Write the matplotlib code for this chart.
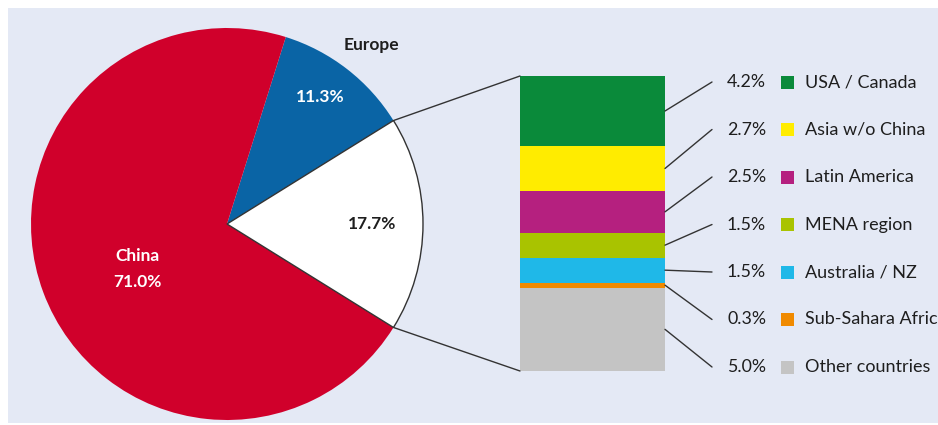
import math
import matplotlib.pyplot as plt
from matplotlib.patches import Rectangle, ConnectionPatch

plt.rcParams['font.family'] = ['Lato', 'DejaVu Sans']

# main pie: rest of world / Europe / China
pie_labels = ["Rest of world", "Europe", "China"]
pie_values = [17.7, 11.3, 71.0]
pie_colors = ["#ffffff", "#0a64a5", "#d0002b"]

# breakdown of the rest of world slice, top to bottom
regions = ["USA / Canada", "Asia w/o China", "Latin America", "MENA region",
           "Australia / NZ", "Sub-Sahara Africa", "Other countries"]
region_values = [4.2, 2.7, 2.5, 1.5, 1.5, 0.3, 5.0]
region_colors = ["#0a8a3a", "#ffec00", "#b5207f", "#a9c300", "#1fb8e8", "#f08a00", "#c4c4c4"]

W, H = 938, 425
fig = plt.figure(figsize=(W / 100, H / 100), dpi=100)
fig.patch.set_facecolor("white")

ax = fig.add_axes([0, 0, 1, 1])
ax.add_patch(Rectangle((8, 2), W - 8, H - 10, facecolor="#e4e9f5", edgecolor="none", zorder=0))

cx, cy, r = 227, 201, 196
start = -pie_values[0] * 3.6 / 2
wedges, _ = ax.pie(pie_values, colors=pie_colors, startangle=start, counterclock=True,
                   center=(cx, cy), radius=r, frame=True,
                   wedgeprops=dict(linewidth=0))
ax.set_xlim(0, W)
ax.set_ylim(0, H)
ax.set_aspect("equal")
ax.axis("off")
wedges[0].set_edgecolor("#333333")
wedges[0].set_linewidth(1.0)
wedges[0].set_zorder(3)

txt = dict(fontweight="bold", ha="center", va="center", fontsize=12.5)
ax.text(137, H - 256, "China", color="white", **txt)
ax.text(137, H - 282, f"{pie_values[2]:.1f}%", color="white", **txt)
ax.text(320, H - 97, f"{pie_values[1]:.1f}%", color="white", **txt)
ax.text(371, H - 45, pie_labels[1], color="#1e1e1e", **txt)
ax.text(372, H - 224, f"{pie_values[0]:.1f}%", color="#1e1e1e", **txt)

# stacked bar for the breakdown
bx0, bx1, by0, by1 = 520, 665, 371, 76
ax_bar = fig.add_axes([bx0 / W, (H - by0) / H, (bx1 - bx0) / W, (by0 - by1) / H])
ax_bar.set_xlim(0, 1)
ax_bar.set_ylim(0, sum(region_values))
ax_bar.axis("off")

bottom = sum(region_values)
centers = []
for val, col in zip(region_values, region_colors):
    bottom -= val
    ax_bar.bar(0.5, val, bottom=bottom, width=1.0, color=col, linewidth=0)
    centers.append(bottom + val / 2)

# lines from the white slice to the bar
theta1, theta2 = wedges[0].theta1, wedges[0].theta2
for theta, ybar in [(theta2, sum(region_values)), (theta1, 0)]:
    px = cx + r * math.cos(math.radians(theta))
    py = cy + r * math.sin(math.radians(theta))
    con = ConnectionPatch(xyA=(0, ybar), coordsA=ax_bar.transData,
                          xyB=(px, py), coordsB=ax.transData,
                          color="#333333", linewidth=1.0)
    fig.add_artist(con)

# leaders and legend entries
for i, (name, val, col, yc) in enumerate(zip(regions, region_values, region_colors, centers)):
    ly = H - (82 + i * 47.5)
    con = ConnectionPatch(xyA=(1, yc), coordsA=ax_bar.transData,
                          xyB=(712, ly), coordsB=ax.transData,
                          color="#333333", linewidth=1.0)
    fig.add_artist(con)
    ax.text(766, ly, f"{val:.1f}%", ha="right", va="center", fontsize=12.8, color="#1e1e1e")
    ax.add_patch(Rectangle((781, ly - 6.5), 13, 13, facecolor=col, edgecolor="none"))
    ax.text(805, ly, name, ha="left", va="center", fontsize=13, color="#1e1e1e", clip_on=False)

fig.savefig("out.png", dpi=100)
